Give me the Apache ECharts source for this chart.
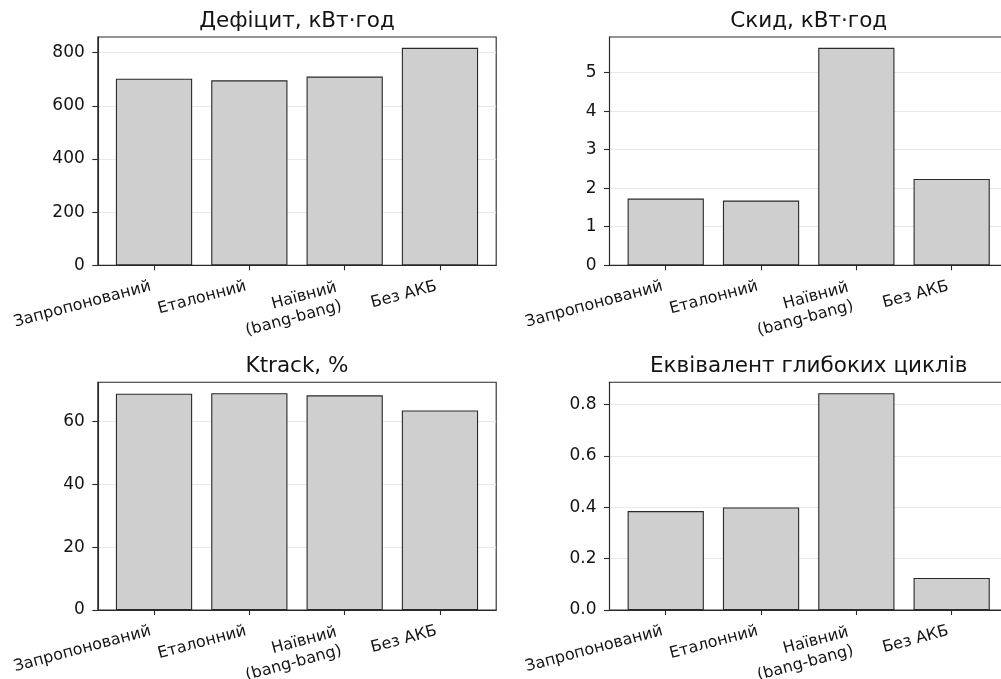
<!DOCTYPE html>
<html><head><meta charset="utf-8">
<script src="https://cdn.jsdelivr.net/npm/echarts@6/dist/echarts.min.js"></script>
<style>html,body{margin:0;padding:0;background:#fff;overflow:hidden}#c{width:1001px;height:679px}</style>
</head><body><div id="c"></div>
<script>
// ---- data ----
const categories = ['Запропонований', 'Еталонний', 'Наївний\n(bang-bang)', 'Без АКБ'];
const titles = ['Дефіцит, кВт·год', 'Скид, кВт·год', 'Ktrack, %', 'Еквівалент глибоких циклів'];
const deficit = [702, 696, 710, 818];
const curtailment = [1.73, 1.68, 5.64, 2.24];
const ktrack = [68.9, 69.1, 68.4, 63.6];
const deepCycles = [0.385, 0.399, 0.844, 0.1245];
const yTicksDeficit = [0, 200, 400, 600, 800];
const yTicksCurtail = [0, 1, 2, 3, 4, 5];
const yTicksKtrack = [0, 20, 40, 60];
const yTicksCycles = [0, 0.2, 0.4, 0.6, 0.8];
const yDecimals = [0, 0, 0, 1];

// ---- layout / style ----
const FONT = 'DejaVu Sans';
const panels = [
  {vals: deficit, ticks: yTicksDeficit},
  {vals: curtailment, ticks: yTicksCurtail},
  {vals: ktrack, ticks: yTicksKtrack},
  {vals: deepCycles, ticks: yTicksCycles}
];
const gridBoxes = [
  {left: 97.8, top: 37, width: 398.4, height: 228.3},
  {left: 609.5, top: 37, width: 398.4, height: 228.3},
  {left: 97.8, top: 382.3, width: 398.4, height: 227.7},
  {left: 609.5, top: 382.3, width: 398.4, height: 227.7}
];
const INK = '#141414';
const SPINE = '#2a2a2a';
const catIdx = categories.map((c, i) => i);

const grid = [], xAxis = [], yAxis = [], series = [], graphic = [];
panels.forEach((p, k) => {
  const g = gridBoxes[k];
  grid.push(Object.assign({show: true, borderColor: SPINE, borderWidth: 1.1, backgroundColor: 'transparent',
    containLabel: false, outerBoundsMode: 'none'}, g));
  xAxis.push({
    type: 'value', gridIndex: k, min: -0.59, max: 3.59,
    axisLine: {show: true, onZero: false, lineStyle: {color: SPINE, width: 1.1}},
    axisTick: {show: true, customValues: catIdx, length: 5, lineStyle: {color: SPINE, width: 1.1}},
    splitLine: {show: false},
    axisLabel: {
      customValues: catIdx, rotate: 15, margin: 10, align: 'right', verticalAlign: 'top',
      color: INK, fontFamily: FONT, fontSize: 16, lineHeight: 19, padding: [0, 6, 0, 0],
      formatter: v => {
        const t = categories[Math.round(v)] || '';
        if (t.indexOf('\n') >= 0) return t.split('\n').map(s => '{m|' + s + '}').join('\n');
        return t;
      },
      rich: {m: {fontFamily: FONT, fontSize: 16, lineHeight: 19, color: INK, padding: [0, 5, 0, 0], align: 'right'}}
    }
  });
  const maxV = Math.max.apply(null, p.vals) * 1.05;
  const step = p.ticks[1] - p.ticks[0];
  yAxis.push({
    type: 'value', gridIndex: k, min: 0, max: maxV, interval: step,
    axisLine: {show: true, onZero: false, lineStyle: {color: SPINE, width: 1.1}},
    axisTick: {show: true, customValues: p.ticks, length: 5.5, lineStyle: {color: SPINE, width: 1.1}},
    axisLabel: {customValues: p.ticks, margin: 13, color: INK, fontFamily: FONT, fontSize: 17,
      formatter: v => Number(v).toFixed(yDecimals[k])},
    splitLine: {show: true, lineStyle: {color: '#e9e9e9', width: 1}}
  });
  series.push({
    type: 'bar', xAxisIndex: k, yAxisIndex: k, barWidth: '80%',
    data: p.vals.map((v, i) => [i, v]),
    itemStyle: {color: '#cfcfcf', borderColor: SPINE, borderWidth: 1.1},
    emphasis: {disabled: true}, animation: false
  });
  graphic.push({
    type: 'text', x: g.left + g.width / 2, y: g.top - 4.5,
    style: {text: titles[k], fontFamily: FONT, fontSize: 21.5, fill: INK, textAlign: 'center', textVerticalAlign: 'bottom'}
  });
});

const chart = echarts.init(document.getElementById('c'), null, {renderer: 'canvas'});
chart.setOption({animation: false, grid, xAxis, yAxis, series, graphic});
</script>
</body></html>
